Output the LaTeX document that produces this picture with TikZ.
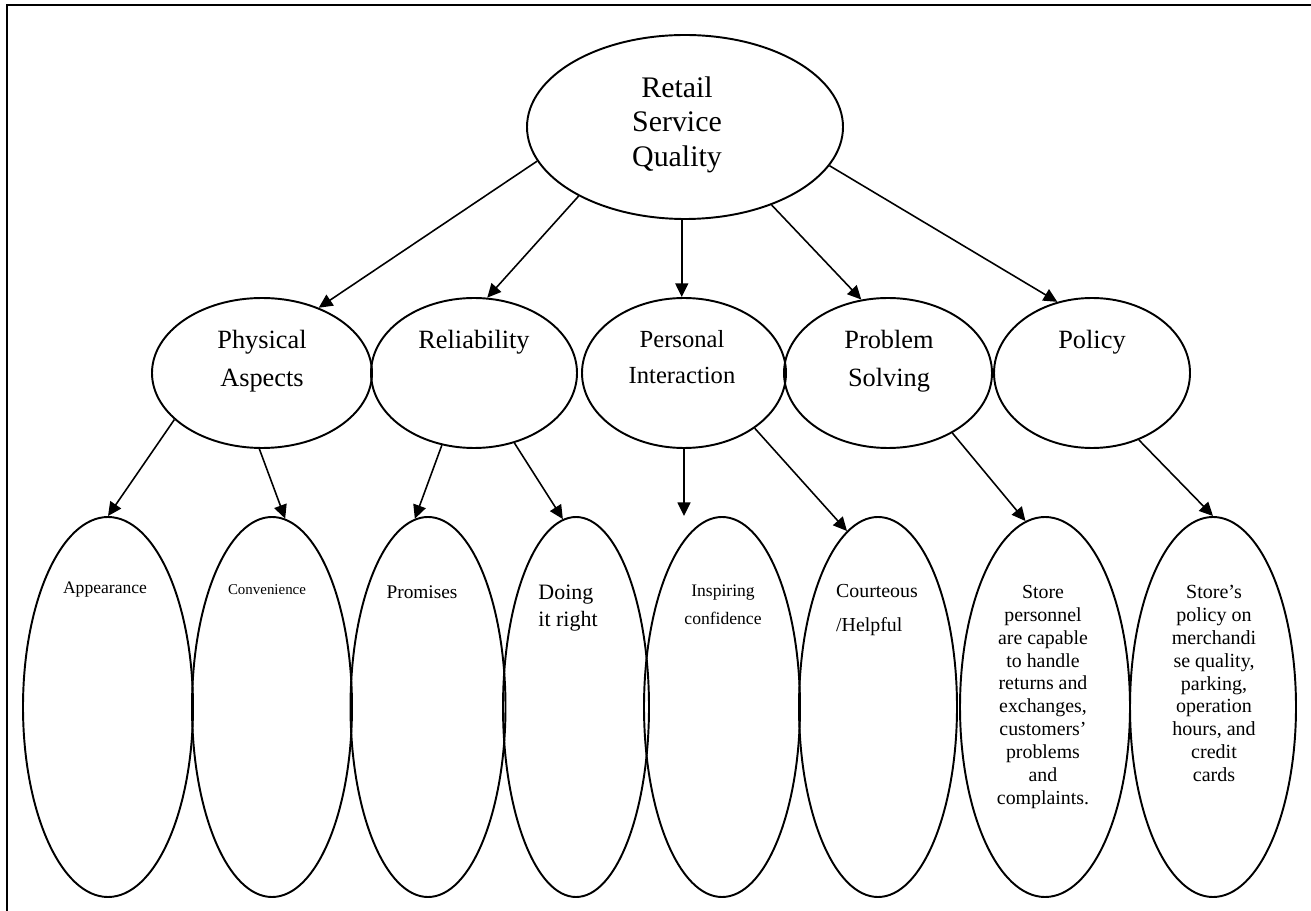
\documentclass[tikz,border=0pt]{standalone}
\usepackage{fontspec}
\setmainfont{Liberation Serif}
\usetikzlibrary{arrows.meta,shapes.geometric}

\begin{document}
\begin{tikzpicture}[%
  x=0.02cm, y=-0.02cm,
  blob/.style 2 args = {draw, ellipse, line width=1.1pt, inner sep=0pt,
    minimum width=#1*0.02cm, minimum height=#2*0.02cm},
  txt/.style = {inner sep=0pt, anchor=north, align=center},
  link/.style = {->, line width=0.9pt},
  >={Triangle[length=7.8pt,width=7.4pt]},
]

  \useasboundingbox (0,0) rectangle (1311,911);
  \draw[line width=1.4pt] (1311,5) -- (7,5) -- (7,911);

  % top
  \node[blob={316}{184}] (root) at (685,127) {};
  \node[txt, font=\fontsize{17}{19.8}\selectfont] (rootT) at (677,76)
    {Retail\\Service\\Quality};

  % middle row
  \node[blob={220}{150}] (phys) at (262,373) {};
  \node[blob={206}{150}] (reli) at (474,373) {};
  \node[blob={204}{150}] (pers) at (684,373) {};
  \node[blob={208}{150}] (prob) at (888,373) {};
  \node[blob={196}{150}] (poli) at (1092,373) {};

  \node[txt, font=\fontsize{15}{21.5}\selectfont] (physT) at (262,330) {Physical\\Aspects};
  \node[txt, font=\fontsize{15}{21.5}\selectfont] (reliT) at (474,330) {Reliability};
  \node[txt, font=\fontsize{14}{20.4}\selectfont] (persT) at (682,330) {Personal\\Interaction};
  \node[txt, font=\fontsize{15}{21.5}\selectfont] (probT) at (889,330) {Problem\\Solving};
  \node[txt, font=\fontsize{15}{21.5}\selectfont] (poliT) at (1092,330) {Policy};

  % bottom row
  \node[blob={170}{380}] (app) at (108,707) {};
  \node[blob={160}{380}] (conv) at (272,707) {};
  \node[blob={155}{380}] (prom) at (428,707) {};
  \node[blob={146}{380}] (doing) at (576,707) {};
  \node[blob={156}{380}] (insp) at (722,707) {};
  \node[blob={158}{380}] (cour) at (878,707) {};
  \node[blob={170}{380}] (stper) at (1045,707) {};
  \node[blob={166}{380}] (stpol) at (1213,707) {};

  \node[txt, font=\fontsize{10}{12}\selectfont] (appT) at (105,582) {Appearance};
  \node[txt, font=\fontsize{8.5}{10}\selectfont] (convT) at (267,584) {Convenience};
  \node[txt, font=\fontsize{11}{13}\selectfont] (promT) at (422,585) {Promises};
  \node[txt, align=left, font=\fontsize{12.5}{15.3}\selectfont] (doingT) at (568,585)
    {Doing\\it right};
  \node[txt, font=\fontsize{10}{15.9}\selectfont] (inspT) at (723,585)
    {Inspiring\\confidence};
  \node[txt, align=left, font=\fontsize{11.3}{19.3}\selectfont] (courT) at (877,584)
    {Courteous\\/Helpful};
  \node[txt, font=\fontsize{11.3}{13}\selectfont] (stperT) at (1043,585)
    {Store\\personnel\\are capable\\to handle\\returns and\\exchanges,\\customers’\\problems\\and\\complaints.};
  \node[txt, font=\fontsize{11.4}{13}\selectfont] (stpolT) at (1214,585)
    {Store’s\\policy on\\merchandi\\se quality,\\parking,\\operation\\hours, and\\credit\\cards};

  % links, top level
  \draw[link] (root.193) -- (phys.49);
  \draw[link] (root.213) -- (reli.80);
  \draw[link] (root.-92) -- (root.-92 |- pers.north);
  \draw[link] (root.318) -- (prob.110);
  \draw[link] (root.345) -- (poli.116);

  % links, lower level
  \draw[link] (phys.208) -- (app.north);
  \draw[link] (phys.-92) -- (conv.86);
  \draw[link] (reli.246) -- (prom.94);
  \draw[link] (reli.300) -- (doing.94);
  \draw[link] (pers.south) -- (pers.south |- insp.north);
  \draw[link] (pers.322) -- (cour.100);
  \draw[link] (prob.317) -- (stper.96);
  \draw[link] (poli.305) -- (stpol.north);

\end{tikzpicture}
\end{document}
